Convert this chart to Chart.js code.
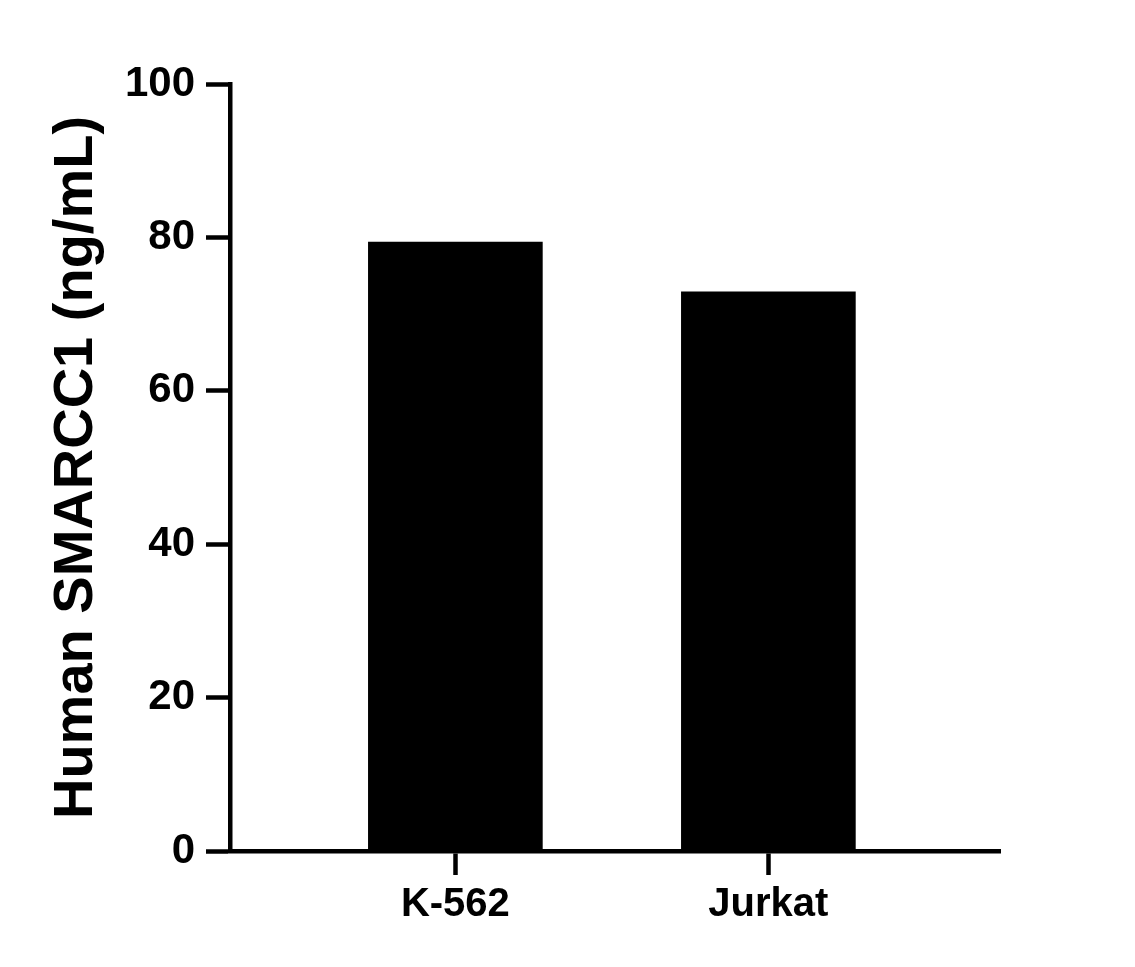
<!DOCTYPE html>
<html>
<head>
<meta charset="utf-8">
<script src="https://cdn.jsdelivr.net/npm/chart.js@4/dist/chart.umd.min.js"></script>
<style>
  html, body { margin: 0; padding: 0; background: #fff; }
</style>
</head>
<body>
<canvas id="chart" width="1135" height="967"></canvas>
<script>
'use strict';

// cell lines and measured concentration
var categories = ['K-562', 'Jurkat'];
var values = [79.4, 72.9];
var yTicks = [0, 20, 40, 60, 80, 100];
var yTitle = 'Human SMARCC1 (ng/mL)';

var font = "'Liberation Sans', Arial, Helvetica, sans-serif";

// bars sit at x = 1, 2 on a linear axis so the spacing can match
var points = values.map(function(v, i) { return {x: i + 1, y: v}; });

new Chart(document.getElementById('chart'), {
  type: 'bar',
  data: {
    datasets: [{
      data: points,
      backgroundColor: '#000',
      borderWidth: 0,
      barThickness: 174
    }]
  },
  options: {
    responsive: false,
    animation: false,
    layout: { padding: { left: 0, right: 135, top: 84, bottom: 0 } },
    plugins: { legend: { display: false }, tooltip: { enabled: false } },
    scales: {
      x: {
        type: 'linear',
        min: 0.28,
        max: 2.74,
        offset: false,
        afterBuildTicks: function(scale) {
          scale.ticks = categories.map(function(c, i) { return {value: i + 1}; });
        },
        afterFit: function(scale) { scale.height = 116; },
        border: { display: true, color: '#000', width: 4.5 },
        grid: {
          offset: false,
          drawOnChartArea: false,
          drawTicks: true,
          tickLength: 24,
          tickWidth: 4.5,
          tickColor: '#000'
        },
        ticks: {
          autoSkip: false,
          maxRotation: 0,
          padding: 6,
          color: '#000',
          font: { family: font, size: 40, weight: 'bold' },
          callback: function(v) { return categories[v - 1]; }
        }
      },
      y: {
        min: 0,
        max: 100,
        afterBuildTicks: function(scale) {
          scale.ticks = yTicks.map(function(t) { return {value: t}; });
        },
        afterFit: function(scale) { scale.width = 230; },
        border: { display: true, color: '#000', width: 4.5 },
        grid: {
          drawOnChartArea: false,
          drawTicks: true,
          tickLength: 24,
          tickWidth: 4.5,
          tickColor: '#000'
        },
        ticks: {
          padding: 11,
          color: '#000',
          font: { family: font, size: 42, weight: 'bold' }
        },
        title: {
          display: true,
          text: yTitle,
          color: '#000',
          padding: { top: 43, bottom: 0 },
          font: { family: font, size: 56, weight: 'bold' }
        }
      }
    }
  }
});
</script>
</body>
</html>
